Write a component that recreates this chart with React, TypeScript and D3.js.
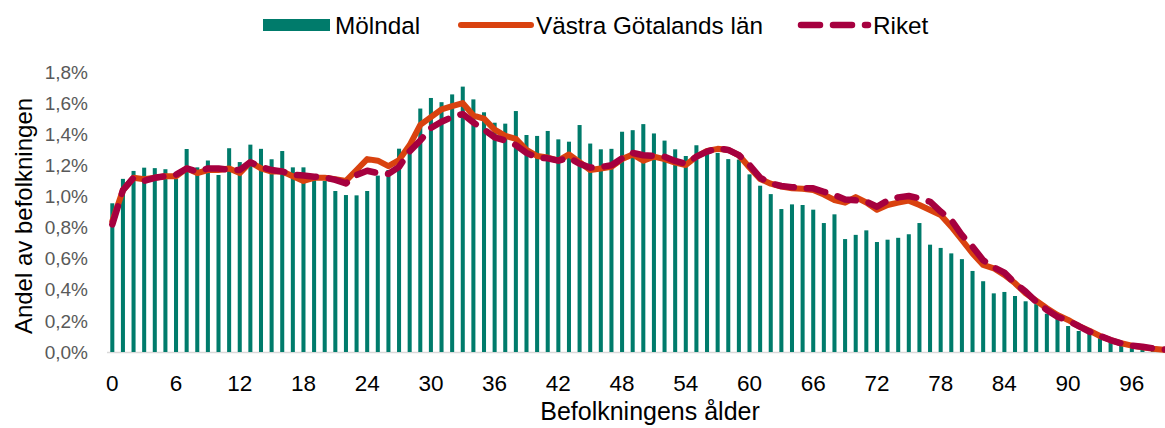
import React from "react";
import * as d3 from "d3";

const ages: number[] = Array.from({ length: 101 }, (_, i) => i);
const tickAges: number[] = [0, 6, 12, 18, 24, 30, 36, 42, 48, 54, 60, 66, 72, 78, 84, 90, 96];
const yTicks: number[] = [0, 0.2, 0.4, 0.6, 0.8, 1.0, 1.2, 1.4, 1.6, 1.8];

const molndal: number[] = [
  0.956, 1.113, 1.164, 1.185, 1.182, 1.175, 1.112, 1.305, 1.187, 1.231,
  1.138, 1.31, 1.221, 1.333, 1.306, 1.239, 1.292, 1.187, 1.187, 1.12,
  1.1, 1.035, 1.009, 1.007, 1.035, 1.134, 1.17, 1.307, 1.3, 1.565,
  1.633, 1.606, 1.656, 1.706, 1.624, 1.541, 1.474, 1.468, 1.549, 1.395,
  1.389, 1.421, 1.367, 1.352, 1.459, 1.34, 1.303, 1.306, 1.416, 1.426,
  1.465, 1.405, 1.359, 1.303, 1.26, 1.329, 1.28, 1.28, 1.24, 1.237,
  1.142, 1.069, 1.015, 0.919, 0.949, 0.945, 0.915, 0.829, 0.885, 0.726,
  0.753, 0.782, 0.707, 0.722, 0.734, 0.757, 0.829, 0.69, 0.669, 0.634,
  0.597, 0.521, 0.455, 0.377, 0.386, 0.36, 0.326, 0.308, 0.246, 0.221,
  0.167, 0.135, 0.125, 0.094, 0.066, 0.045, 0.029, 0.017, 0.008, 0.005,
  0.003,
];

const vastraGotaland: number[] = [
  0.84, 1.04, 1.12, 1.11, 1.12, 1.13, 1.13, 1.18, 1.15, 1.17,
  1.17, 1.18, 1.15, 1.22, 1.18, 1.16, 1.16, 1.13, 1.1, 1.12,
  1.12, 1.11, 1.1, 1.17, 1.24, 1.23, 1.195, 1.234, 1.33, 1.46,
  1.51, 1.56, 1.58, 1.6, 1.52, 1.5, 1.43, 1.39, 1.37, 1.3,
  1.26, 1.25, 1.23, 1.27, 1.22, 1.17, 1.18, 1.19, 1.24, 1.27,
  1.23, 1.256, 1.24, 1.218, 1.202, 1.256, 1.293, 1.306, 1.299, 1.265,
  1.186, 1.112, 1.082, 1.063, 1.052, 1.05, 1.041, 1.012, 0.977, 0.96,
  0.996, 0.961, 0.915, 0.945, 0.96, 0.973, 0.945, 0.913, 0.881, 0.806,
  0.72, 0.634, 0.56, 0.538, 0.495, 0.442, 0.377, 0.33, 0.281, 0.238,
  0.206, 0.167, 0.137, 0.103, 0.077, 0.056, 0.041, 0.03, 0.021, 0.015,
  0.01,
];

const riket: number[] = [
  0.82, 1.04, 1.12, 1.1, 1.12, 1.13, 1.14, 1.18, 1.16, 1.18,
  1.18, 1.17, 1.17, 1.22, 1.19, 1.17, 1.16, 1.14, 1.134, 1.127,
  1.123, 1.106, 1.084, 1.138, 1.165, 1.15, 1.145, 1.19, 1.29, 1.36,
  1.44, 1.48, 1.51, 1.53, 1.475, 1.43, 1.38, 1.36, 1.33, 1.28,
  1.25, 1.245, 1.23, 1.25, 1.21, 1.185, 1.19, 1.2, 1.245, 1.28,
  1.265, 1.26, 1.255, 1.228, 1.21, 1.256, 1.288, 1.309, 1.299, 1.266,
  1.202, 1.121, 1.084, 1.067, 1.06, 1.052, 1.052, 1.03, 1.009, 0.981,
  0.975, 0.966, 0.934, 0.973, 0.994, 1.003, 0.988, 0.966, 0.902, 0.849,
  0.752, 0.677, 0.59, 0.544, 0.51, 0.442, 0.388, 0.323, 0.27, 0.227,
  0.201, 0.167, 0.131, 0.103, 0.077, 0.056, 0.041, 0.034, 0.024, 0.017,
  0.01,
];

const W = 1165;
const H = 428;
const FONT = "'Liberation Sans', Arial, sans-serif";
const TEAL = "#007b6b";
const ORANGE = "#d9420f";
const CRIMSON = "#a6003f";

export default function App() {
  const plotLeft = 107;
  const step = 10.62;
  const x = d3
    .scaleBand<number>()
    .domain(ages)
    .range([plotLeft, plotLeft + step * ages.length])
    .paddingInner(0.62)
    .paddingOuter(0.31);
  const y = d3.scaleLinear().domain([0, 1.8]).range([352, 72]);
  const cx = (a: number) => (x(a) as number) + x.bandwidth() / 2;

  const line = d3
    .line<number>()
    .x((_, i) => cx(ages[i]))
    .y((d) => y(d));

  const fmt = (v: number) => v.toFixed(1).replace(".", ",") + "%";

  return (
    <svg
      width={W}
      height={H}
      style={{ position: "absolute", left: 0, top: 0, background: "#fff" }}
      fontFamily={FONT}
    >
      <defs>
        <clipPath id="clip">
          <rect x={0} y={0} width={W} height={H} />
        </clipPath>
      </defs>
      <line x1={plotLeft} x2={W} y1={y(0) + 0.5} y2={y(0) + 0.5} stroke="#d9d9d9" strokeWidth={1.5} />
      <g clipPath="url(#clip)">
        {ages.map((a, i) => (
          <rect
            key={a}
            x={x(a)}
            y={y(molndal[i])}
            width={x.bandwidth()}
            height={y(0) - y(molndal[i])}
            fill={TEAL}
          />
        ))}
        <path d={line(vastraGotaland) || ""} fill="none" stroke={ORANGE} strokeWidth={6} strokeLinejoin="round" strokeLinecap="round" />
        <path
          d={line(riket) || ""}
          fill="none"
          stroke={CRIMSON}
          strokeWidth={6.5}
          strokeDasharray="19 13"
          strokeLinejoin="round"
          strokeLinecap="round"
        />
      </g>
      {yTicks.map((t) => (
        <text key={t} x={88} y={y(t)} dy="0.35em" textAnchor="end" fontSize={19} fill="#595959">
          {fmt(t)}
        </text>
      ))}
      {tickAges.map((a) => (
        <text key={a} x={cx(a)} y={383} dy="0.35em" textAnchor="middle" fontSize={22.5} fill="#000">
          {a}
        </text>
      ))}
      <text x={650} y={411} dy="0.35em" textAnchor="middle" fontSize={25} fill="#000">
        Befolkningens ålder
      </text>
      <text transform="translate(24,216) rotate(-90)" dy="0.35em" textAnchor="middle" fontSize={24} fill="#000">
        Andel av befolkningen
      </text>
      <g>
        <rect x={263} y={19} width={67} height={12} fill={TEAL} />
        <text x={335} y={25} dy="0.35em" fontSize={24.3} fill="#000">Mölndal</text>
        <line x1={461} x2={531} y1={25} y2={25} stroke={ORANGE} strokeWidth={6} strokeLinecap="round" />
        <text x={536} y={25} dy="0.35em" fontSize={24.3} fill="#000">Västra Götalands län</text>
        <line x1={801} x2={868} y1={25} y2={25} stroke={CRIMSON} strokeWidth={6.5} strokeLinecap="round" strokeDasharray="19 13" />
        <text x={873} y={25} dy="0.35em" fontSize={24.3} fill="#000">Riket</text>
      </g>
    </svg>
  );
}
